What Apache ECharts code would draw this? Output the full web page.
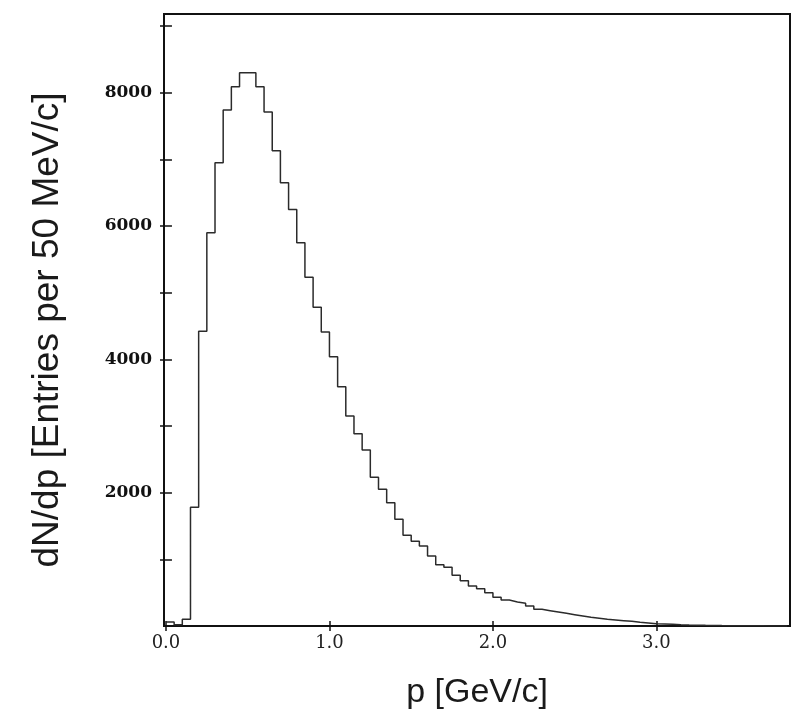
<!DOCTYPE html>
<html>
<head>
<meta charset="utf-8">
<script src="https://cdn.jsdelivr.net/npm/echarts@6/dist/echarts.min.js"></script>
<style>
html,body{margin:0;padding:0;background:#fff;}
#chart{width:791px;height:715px;}
</style>
</head>
<body>
<div id="chart"></div>
<script>
// Histogram: entries per 50 MeV/c bin, bins start at 0.0 GeV/c
var binStart = 0.0;
var binWidth = 0.05;
var counts = [
  60, 20, 100, 1780, 4420, 5900, 6950, 7740, 8090, 8300,
  8300, 8090, 7710, 7130, 6650, 6250, 5750, 5230, 4780, 4410,
  4040, 3590, 3150, 2885, 2640, 2230, 2050, 1850, 1600, 1360,
  1270, 1200, 1050, 920, 880, 760, 680, 600, 560, 500,
  430, 390, 360, 340, 300, 250, 230, 210, 190, 170,
  150, 130, 115, 100, 90, 80, 70, 55, 45, 35,
  30, 25, 20, 16, 13, 10, 8, 6, 5, 4,
  3, 2, 2, 1, 1, 1
];
var xTicks = [0, 1, 2, 3];
var xTickLabels = ['0.0', '1.0', '2.0', '3.0'];
var yTicks = [1000, 2000, 3000, 4000, 5000, 6000, 7000, 8000, 9000];
var yTickLabels = {2000: '2000', 4000: '4000', 6000: '6000', 8000: '8000'};
var xTitle = 'p [GeV/c]';
var yTitle = 'dN/dp [Entries per 50 MeV/c]';

var pts = [];
for (var i = 0; i < counts.length; i++) {
  pts.push([binStart + i * binWidth, counts[i]]);
}
pts.push([binStart + counts.length * binWidth, counts[counts.length - 1]]);

var X_MIN = -0.012, X_MAX = 3.817, Y_MIN = 0, Y_MAX = 9181;
var ink = '#111';

var chart = echarts.init(document.getElementById('chart'), null, {renderer: 'canvas'});
chart.setOption({
  animation: false,
  backgroundColor: '#ffffff',
  grid: {left: 164, right: 1, top: 14, bottom: 87, show: true, borderColor: ink, borderWidth: 2, backgroundColor: 'transparent'},
  xAxis: [{
    type: 'value', min: X_MIN, max: X_MAX, position: 'bottom',
    name: xTitle, nameLocation: 'middle', nameGap: 50,
    nameTextStyle: {fontFamily: 'Liberation Sans', fontSize: 34, color: '#1a1a1a'},
    axisLine: {show: false}, splitLine: {show: false},
    axisTick: {show: true, inside: true, length: 5, customValues: xTicks, lineStyle: {color: ink, width: 1.5}},
    axisLabel: {show: true, customValues: xTicks, margin: 8, fontFamily: 'DejaVu Serif', fontSize: 18, color: '#222',
      formatter: function (v) { var k = xTicks.indexOf(Math.round(v)); return k >= 0 ? xTickLabels[k] : ''; }}
  }, {
    type: 'value', min: X_MIN, max: X_MAX, position: 'top',
    axisLine: {show: false}, splitLine: {show: false}, axisLabel: {show: false},
    axisTick: {show: true, inside: true, length: 5, customValues: xTicks, lineStyle: {color: ink, width: 1.5}}
  }],
  yAxis: [{
    type: 'value', min: Y_MIN, max: Y_MAX, position: 'left',
    name: yTitle, nameLocation: 'middle', nameGap: 98, nameRotate: 90,
    nameTextStyle: {fontFamily: 'Liberation Sans', fontSize: 37, color: '#1a1a1a', padding: [0, 20, 0, 0]},
    axisLine: {show: false}, splitLine: {show: false},
    axisTick: {show: true, inside: true, length: 6, customValues: yTicks, lineStyle: {color: ink, width: 1.5}},
    axisLabel: {show: true, customValues: yTicks, margin: 12, fontFamily: 'DejaVu Serif', fontWeight: 'bold', fontSize: 17, color: '#111',
      formatter: function (v) { return yTickLabels[Math.round(v)] || ''; }}
  }, {
    type: 'value', min: Y_MIN, max: Y_MAX, position: 'right',
    axisLine: {show: false}, splitLine: {show: false}, axisLabel: {show: false},
    axisTick: {show: true, inside: true, length: 6, customValues: yTicks, lineStyle: {color: ink, width: 1.5}}
  }],
  series: [{
    type: 'line', step: 'end', data: pts, xAxisIndex: 0, yAxisIndex: 0,
    showSymbol: false, symbol: 'none',
    lineStyle: {color: '#2b2b2b', width: 1.5},
    z: 3
  }]
});
</script>
</body>
</html>
